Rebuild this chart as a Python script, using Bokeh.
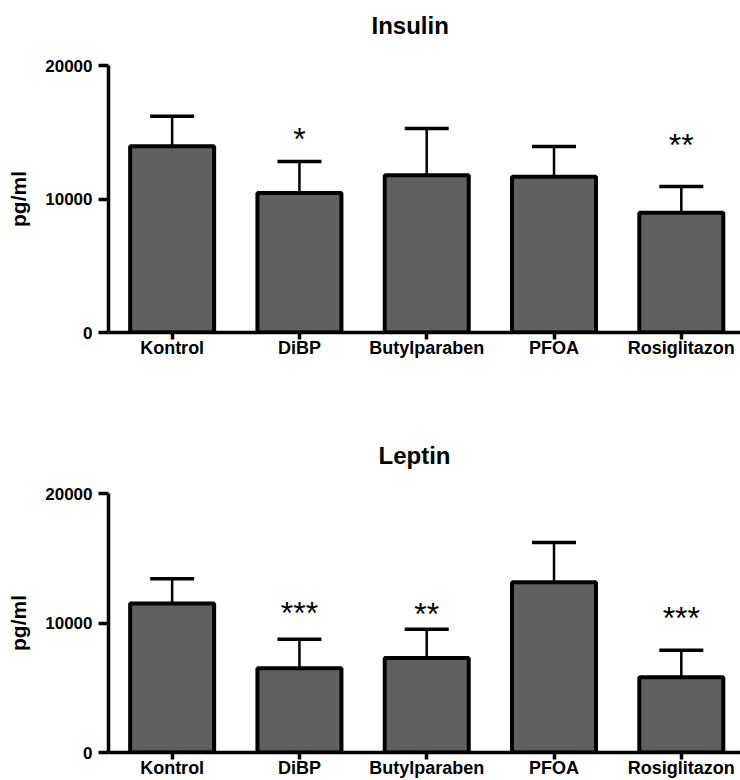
from bokeh.plotting import figure
from bokeh.models import Range1d, FixedTicker, Whisker, TeeHead, ColumnDataSource, Title
from bokeh.layouts import column
from bokeh.embed import file_html
from bokeh.resources import INLINE
from bokeh.core.properties import value

categories = ["Kontrol", "DiBP", "Butylparaben", "PFOA", "Rosiglitazon"]

insulin_mean = [13950, 10450, 11780, 11660, 8970]
insulin_upper = [16200, 12800, 15280, 13930, 10940]
insulin_sig = ["", "*", "", "", "**"]
insulin_sig_y = [0, 14530, 0, 0, 14060]

leptin_mean = [11510, 6500, 7290, 13150, 5810]
leptin_upper = [13410, 8750, 9520, 16220, 7900]
leptin_sig = ["", "***", "**", "", "***"]
leptin_sig_y = [0, 10800, 10720, 0, 10410]

y_ticks = [0, 10000, 20000]

FONT = "Liberation Sans"
BAR = "#606060"


def make_panel(title, mean, upper, sig, sig_y, height, border_top, border_bottom,
               title_offset, title_gap):
    xs = list(range(len(categories)))
    src = ColumnDataSource(dict(x=xs, top=mean, upper=upper, sig=sig, sig_y=sig_y))
    p = figure(width=740, height=height, title=None,
               x_range=Range1d(-0.5, 4.465), y_range=Range1d(0, 20000),
               output_backend="svg", toolbar_location=None,
               min_border_left=108, min_border_right=0,
               min_border_top=border_top, min_border_bottom=border_bottom)
    p.outline_line_color = None
    p.grid.visible = False
    p.background_fill_color = "white"

    # empty spacer between the frame and the title
    p.add_layout(Title(text=" ", text_font_size="1px", standoff=title_gap), "above")
    p.add_layout(Title(text=title, text_font=FONT, text_font_size="24px",
                       text_font_style="bold", text_color="black",
                       align="left", offset=title_offset, standoff=10), "above")

    w = Whisker(source=src, base="x", lower="top", upper="upper",
                line_width=2.5, line_color="black",
                upper_head=TeeHead(size=44, line_width=3.5, line_color="black"),
                lower_head=None)
    p.add_layout(w)

    p.vbar(x="x", top="top", width=0.66, source=src,
           fill_color=BAR, line_color="black", line_width=4)

    p.text(x="x", y="sig_y", text="sig", source=src,
           text_align="center", text_baseline="alphabetic",
           text_font=value(FONT), text_font_size="32px", text_color="black")

    xa = p.xaxis[0]
    xa.ticker = FixedTicker(ticks=xs)
    xa.major_label_overrides = {i: c for i, c in enumerate(categories)}
    xa.axis_line_width = 3.5
    xa.major_tick_line_width = 3.5
    xa.major_tick_in = 0
    xa.major_tick_out = 7
    xa.minor_tick_line_color = None
    xa.major_label_text_font = FONT
    xa.major_label_text_font_size = "18px"
    xa.major_label_text_font_style = "bold"
    xa.major_label_text_color = "black"
    xa.major_label_standoff = -2
    xa.axis_label_standoff = 0

    ya = p.yaxis[0]
    ya.ticker = FixedTicker(ticks=y_ticks)
    ya.axis_line_width = 3.5
    ya.major_tick_line_width = 3.5
    ya.major_tick_in = 0
    ya.major_tick_out = 10
    ya.minor_tick_line_color = None
    ya.major_label_text_font = FONT
    ya.major_label_text_font_size = "17px"
    ya.major_label_text_font_style = "bold"
    ya.major_label_text_color = "black"
    ya.major_label_standoff = 6
    ya.axis_label = "pg/ml"
    ya.axis_label_text_font = FONT
    ya.axis_label_text_font_size = "21px"
    ya.axis_label_text_font_style = "bold"
    ya.axis_label_text_color = "black"
    ya.axis_label_standoff = 12
    return p


p1 = make_panel("Insulin", insulin_mean, insulin_upper, insulin_sig, insulin_sig_y,
                400, 65, 68, 263, 19)
p2 = make_panel("Leptin", leptin_mean, leptin_upper, leptin_sig, leptin_sig_y,
                380, 93, 26, 270, 17)

layout = column(p1, p2, spacing=0)
open("out.html", "w").write(file_html(layout, INLINE))
